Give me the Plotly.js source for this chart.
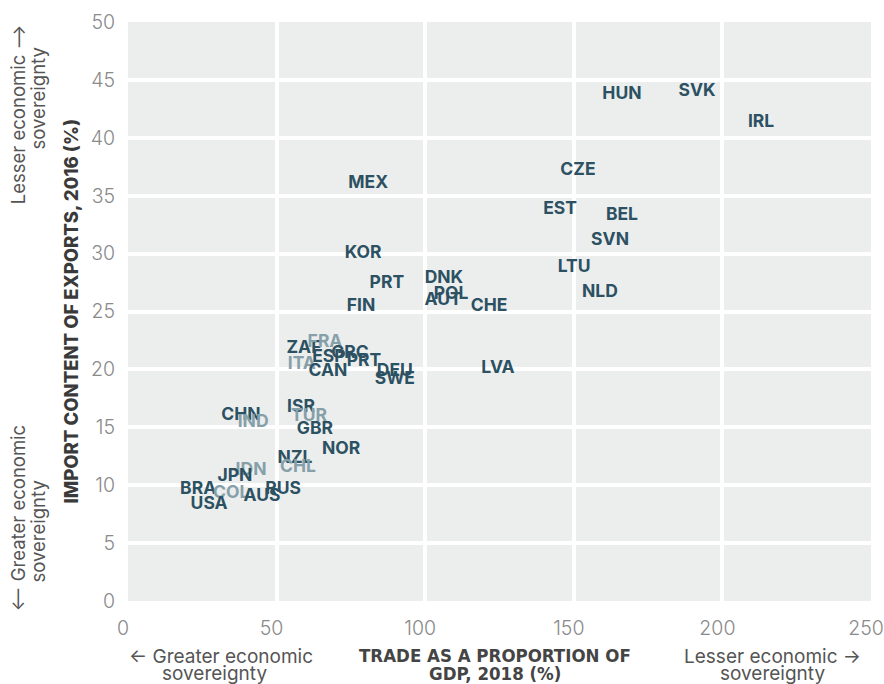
<!DOCTYPE html>
<html>
<head>
<meta charset="utf-8">
<script src="https://cdn.plot.ly/plotly-3.0.1.min.js"></script>
<style>html,body{margin:0;padding:0;background:#fff;}#chart{width:884px;height:684px;}</style>
</head>
<body>
<div id="chart"></div>
<script>
const countries = ["HUN","SVK","IRL","CZE","EST","BEL","SVN","LTU","NLD","MEX","KOR","PRT","FIN","DNK","POL","AUT","CHE","LVA","ZAF","FRA","ESP","GRC","PRT","ITA","CAN","DEU","SWE","ISR","TUR","GBR","NOR","CHN","IND","NZL","CHL","IDN","JPN","BRA","COL","RUS","AUS","USA"];
const tradeShareGDP = [166.2,191.5,213.0,151.4,145.4,166.2,162.2,150.1,158.8,80.8,79.1,87.1,78.4,106.3,108.7,106.0,121.5,124.5,59.2,66.3,67.6,74.7,79.4,58.5,67.3,89.8,89.8,58.2,60.9,62.9,71.7,38.0,42.1,56.2,57.2,41.4,36.0,23.6,34.7,52.2,45.1,27.3];
const importContent = [43.7,44.0,41.3,37.2,33.8,33.3,31.1,28.8,26.6,36.0,30.0,27.4,25.4,27.8,26.5,25.9,25.4,20.1,21.8,22.3,21.0,21.4,20.7,20.4,19.8,19.8,19.1,16.7,15.9,14.8,13.1,16.0,15.4,12.3,11.5,11.3,10.7,9.6,9.3,9.6,9.0,8.3];
const lightLabelled = ["FRA","ITA","TUR","IND","CHL","IDN","COL"];
const xTicks = [0,50,100,150,200,250];
const yTicks = [0,5,10,15,20,25,30,35,40,45,50];

const DARK = "#2c5163", LIGHT = "#86a0aa";
const colors = countries.map(c => lightLabelled.includes(c) ? LIGHT : DARK);

const trace = {
  type: "scatter", mode: "text",
  x: tradeShareGDP, y: importContent, text: countries,
  textposition: "middle center",
  textfont: {family: "Inter, 'Open Sans', sans-serif", size: 17.5, color: colors, weight: 700},
  hoverinfo: "skip", showlegend: false, cliponaxis: false
};

const annFont = {family: "Inter, 'Open Sans', sans-serif", size: 19, color: "#555"};
const vFont = {family: "Inter, 'Open Sans', sans-serif", size: 18.5, color: "#555"};
const tickFont = {family: "Inter, 'Open Sans', sans-serif", size: 19.5, color: "#8a8a8a", weight: 300};
const xTitleFont = {family: "'DejaVu Sans Condensed', 'DejaVu Sans', sans-serif", size: 18.5, color: "#444", weight: 700};
function ann(o) { return Object.assign({xref: "paper", yref: "paper", showarrow: false, yanchor: "middle", borderpad: 0}, o); }

const layout = {
  width: 884, height: 684,
  margin: {l: 128, r: 13, t: 22, b: 83},
  paper_bgcolor: "#ffffff", plot_bgcolor: "#eceeed",
  xaxis: {range: [0, 250], tickvals: xTicks, showgrid: true, gridcolor: "#ffffff", gridwidth: 4,
    zeroline: false, showline: false, ticks: "outside", ticklen: 10, tickcolor: "rgba(0,0,0,0)",
    ticklabelshift: -5, ticklabeloverflow: "allow",
    tickfont: tickFont, fixedrange: true},
  yaxis: {range: [0, 50], tickvals: yTicks, showgrid: true, gridcolor: "#ffffff", gridwidth: 4,
    zeroline: false, showline: false, ticks: "outside", ticklen: 8, tickcolor: "rgba(0,0,0,0)",
    ticklabeloverflow: "allow",
    tickfont: tickFont, fixedrange: true},
  annotations: [
    ann({x: 0, y: 0.5, xshift: -58, xanchor: "center", textangle: -90,
     text: "IMPORT CONTENT OF EXPORTS, 2016 (%)",
     font: {family: "Inter, 'Open Sans', sans-serif", size: 18.5, color: "#3a3a3a", weight: 800}}),
    ann({x: 0.494, y: 0, yshift: -54, xanchor: "center", text: "TRADE AS A PROPORTION OF", font: xTitleFont}),
    ann({x: 0.494, y: 0, yshift: -72, xanchor: "center", text: "GDP, 2018 (%)", font: xTitleFont}),
    ann({x: 0, y: 0, xshift: 0, yshift: -55, xanchor: "left", text: "← Greater economic", font: annFont}),
    ann({x: 0, y: 0, xshift: 33, yshift: -72, xanchor: "left", text: "sovereignty", font: annFont}),
    ann({x: 0.868, y: 0, yshift: -55, xanchor: "center", text: "Lesser economic →", font: annFont}),
    ann({x: 0.868, y: 0, yshift: -72, xanchor: "center", text: "sovereignty", font: annFont}),
    ann({x: 0, y: 0.839, xshift: -110, xanchor: "center", textangle: -90, text: "Lesser economic ⟶", font: vFont}),
    ann({x: 0, y: 0.868, xshift: -90, xanchor: "center", textangle: -90, text: "sovereignty", font: vFont}),
    ann({x: 0, y: 0.143, xshift: -110, xanchor: "center", textangle: -90, text: "⟵ Greater economic", font: vFont}),
    ann({x: 0, y: 0.120, xshift: -90, xanchor: "center", textangle: -90, text: "sovereignty", font: vFont})
  ]
};

Plotly.newPlot("chart", [trace], layout, {displayModeBar: false, staticPlot: true});
</script>
</body>
</html>
